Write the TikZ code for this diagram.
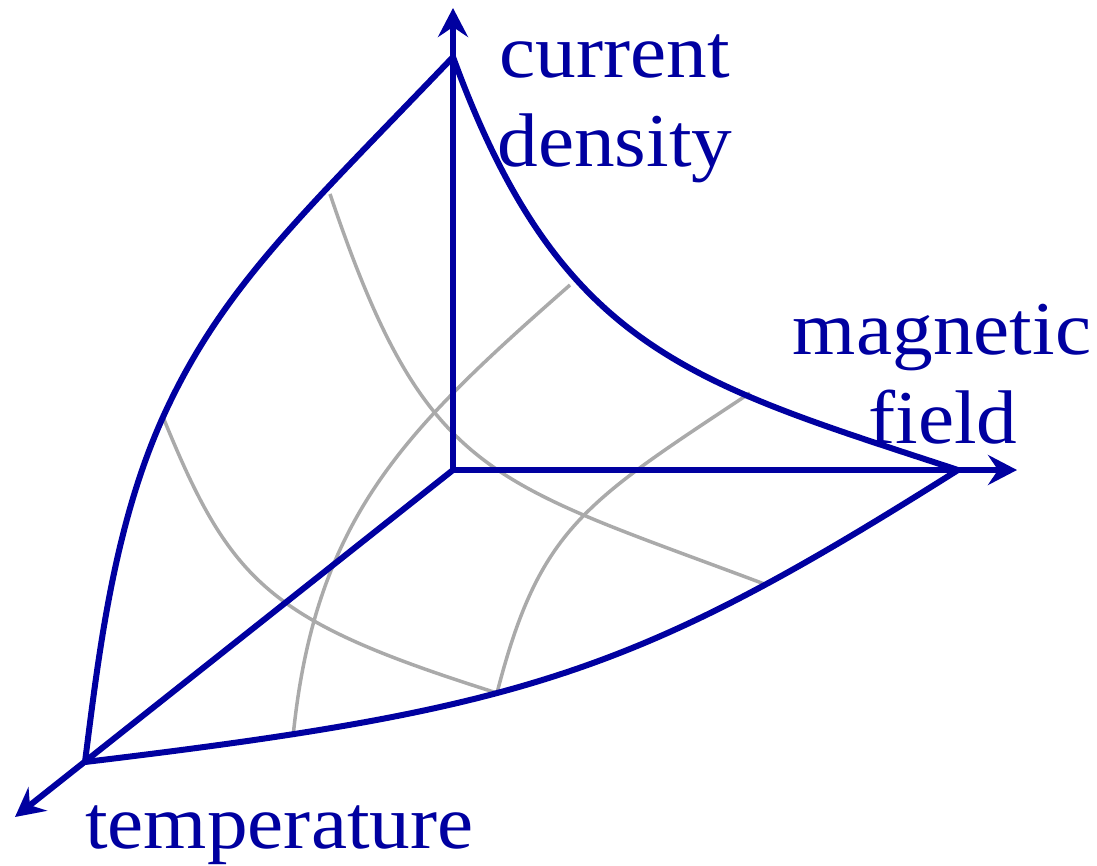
\documentclass[tikz,border=0pt]{standalone}
\usepackage{fontspec}
\setmainfont[FakeStretch=1.07]{Liberation Serif}
\usetikzlibrary{arrows.meta}
\definecolor{axisblue}{RGB}{0,0,160}
\definecolor{meshgray}{RGB}{170,170,170}
\begin{document}
\begin{tikzpicture}[x=1pt,y=-1pt,
  axis/.style={draw=axisblue, line width=6pt, -{Stealth[length=29pt,width=30pt,inset=10pt]}},
  edge/.style={draw=axisblue, line width=6pt, line join=round, line cap=round},
  mesh/.style={draw=meshgray, line width=3.5pt},
  lbl/.style={text=axisblue, font=\fontsize{76}{89}\selectfont, inner sep=0pt, anchor=base}]
\useasboundingbox (0,0) rectangle (1097,866);
% key points
\coordinate (O) at (453,470);
\coordinate (A) at (453,57);
\coordinate (B) at (958,470);
\coordinate (C) at (85,762);
\coordinate (P) at (163,417);
\coordinate (Jtip) at (453,8);
\coordinate (Htip) at (1017,470);
\coordinate (Ttip) at (15,817);
% mesh end points
\coordinate (g1s) at (330,194);
\coordinate (g1e) at (767,585);
\coordinate (g2s) at (570,285);
\coordinate (g2e) at (293,737);
\coordinate (g3s) at (750,393);
\coordinate (g3e) at (497,693);
% mesh
\draw[mesh] (g1s) .. controls (426,479) and (488,480) .. (g1e);
\draw[mesh] (g2s) .. controls (405,430) and (315,517) .. (g2e);
\draw[mesh] (g3s) .. controls (584,503) and (539.5,528) .. (g3e);
\draw[mesh] (P) .. controls (231,584) and (269,621) .. (g3e);
% axes
\draw[axis] (O) -- (Jtip);
\draw[axis] (O) -- (Htip);
\draw[axis] (O) -- (Ttip);
% surface edges
\draw[edge] (A) .. controls (560,350) and (690,382) .. (B);
\draw[edge] (A) .. controls (303,214) and (222,287) .. (P)
                .. controls (113.5,527) and (99,652) .. (C);
\draw[edge] (C) .. controls (528,709) and (638,672) .. (B);
% labels
\node[lbl] (cur) at (615,78) {current};
\node[lbl] (den) at (615,167) {density};
\node[lbl] (mag) at (942,355) {magnetic};
\node[lbl] (fld) at (943,443) {field};
\node[lbl, anchor=base west] (tmp) at (85,848) {temperature};
\end{tikzpicture}
\end{document}
